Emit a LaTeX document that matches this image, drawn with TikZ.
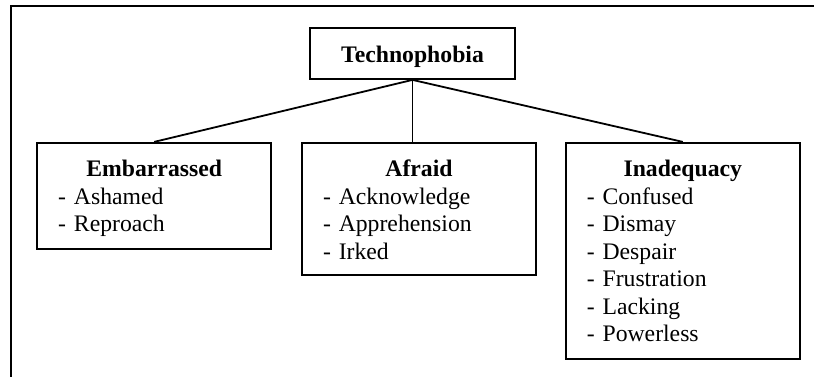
\documentclass[tikz,border=0pt]{standalone}
\usepackage{fontspec}
\setmainfont{Liberation Serif}
\usetikzlibrary{positioning}

\begin{document}
\begin{tikzpicture}[x=1pt, y=1pt, line width=1.8pt,
    every node/.style={font=\fontsize{23.7}{27.5}\selectfont},
    topbox/.style={draw, inner sep=0pt, minimum width=205pt,
      text height=35pt, text depth=16pt,
      font=\fontsize{23.7}{27.5}\selectfont\bfseries},
    catbox/.style={draw, anchor=north, inner xsep=21pt, inner ysep=0pt,
      text width=192pt, text height=34pt, align=left}]
  \useasboundingbox (0,0) rectangle (814,-377);
  % frame (top and left edges only)
  \draw (814,-6) -- (11,-6) -- (11,-377);

  % root
  \node[topbox] (techno) at (412.5,-53.5) {Technophobia};

  % categories
  \node[catbox, below=62pt of techno, xshift=6.5pt, text depth=98pt] (afraid)
    {\makebox[\linewidth]{\textbf{Afraid}}\\
     - Acknowledge\\
     - Apprehension\\
     - Irked};
  \node[catbox, left=29pt of afraid.north west, anchor=north east, text depth=72pt] (emb)
    {\makebox[\linewidth]{\textbf{Embarrassed}}\\
     - Ashamed\\
     - Reproach};
  \node[catbox, right=28pt of afraid.north east, anchor=north west, text depth=182pt] (inad)
    {\makebox[\linewidth]{\textbf{Inadequacy}}\\
     - Confused\\
     - Dismay\\
     - Despair\\
     - Frustration\\
     - Lacking\\
     - Powerless};

  % connectors
  \draw (techno.south) -- (emb.north);
  \draw (techno.south) -- (techno.south |- afraid.north);
  \draw (techno.south) -- (inad.north);
\end{tikzpicture}
\end{document}
